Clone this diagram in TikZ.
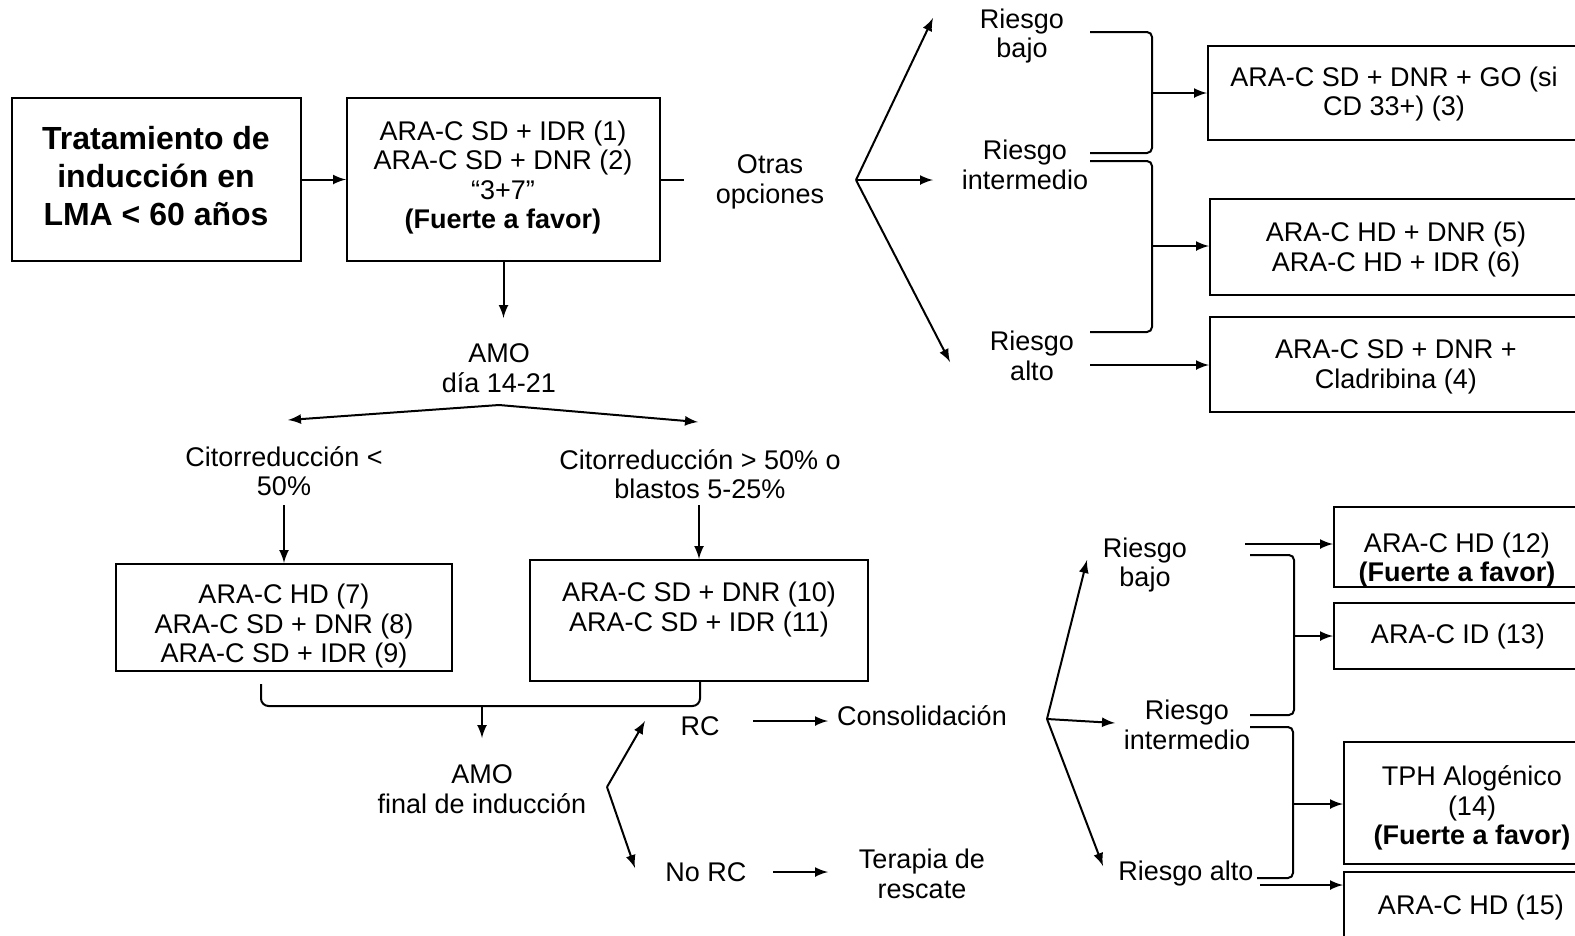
\documentclass[tikz,border=0pt]{standalone}
\usepackage{fontspec}
\setmainfont{Liberation Sans}
\usepackage{tikz}

\begin{document}
\begin{tikzpicture}[x=0.4pt,y=-0.4pt,line width=0.8pt,>=latex,
    caja/.style={draw,inner sep=0pt},
    txt/.style={align=center,font=\fontsize{10.8}{11.8}\selectfont},
    titulo/.style={align=center,font=\fontsize{12.8}{15.2}\selectfont\bfseries}]
            \useasboundingbox (0,0) rectangle (1575,935);
            \clip (0,0) rectangle (1575,935);
            \node[caja,minimum width=115.6pt,minimum height=65.2pt] (0) at (156.5,179.5) {};
            \node[caja,minimum width=125.2pt,minimum height=65.2pt] (1) at (503.5,179.5) {};
            \node[caja,minimum width=149.6pt,minimum height=37.6pt] (2) at (1395,93) {};
            \node[caja,minimum width=148.8pt,minimum height=38.4pt] (3) at (1396,247) {};
            \node[caja,minimum width=148.8pt,minimum height=38pt] (4) at (1396,364.5) {};
            \node[caja,minimum width=134.4pt,minimum height=42.8pt] (5) at (284,617.5) {};
            \node[caja,minimum width=135.2pt,minimum height=48.4pt] (6) at (699,620.5) {};
            \node[caja,minimum width=99.2pt,minimum height=32pt] (7) at (1458,547) {};
            \node[caja,minimum width=99.2pt,minimum height=26.4pt] (8) at (1458,636) {};
            \node[caja,minimum width=95.2pt,minimum height=48.8pt] (9) at (1463,803) {};
            \node[caja,minimum width=95.2pt,minimum height=43.2pt] (10) at (1463,926) {};
            \node[titulo] (11) at (156,176) {Tratamiento de\\inducción en\\LMA < 60 años};
            \node[txt] (12) at (503,177.5) {ARA-C SD + IDR (1)\\ARA-C SD + DNR (2)\\“3+7”\\\textbf{(Fuerte a favor)}};
            \node[txt] (13) at (1394,94) {ARA-C SD + DNR + GO (si\\CD 33+) (3)};
            \node[txt] (14) at (1396,249.5) {ARA-C HD + DNR (5)\\ARA-C HD + IDR (6)};
            \node[txt] (15) at (1396,367) {ARA-C SD + DNR +\\Cladribina (4)};
            \node[txt] (16) at (284,626) {ARA-C HD (7)\\ARA-C SD + DNR (8)\\ARA-C SD + IDR (9)};
            \node[txt] (17) at (699,609.5) {ARA-C SD + DNR (10)\\ARA-C SD + IDR (11)};
            \node[txt] (18) at (1457,560) {ARA-C HD (12)\\\textbf{(Fuerte a favor)}};
            \node[txt] (19) at (1458,637) {ARA-C ID (13)};
            \node[txt] (20) at (1472,808) {TPH Alogénico\\(14)\\\textbf{(Fuerte a favor)}};
            \node[txt] (21) at (1471,907) {ARA-C HD (15)};
            \node[txt] (22) at (770,182) {Otras\\opciones};
            \node[txt] (23) at (1022,36) {Riesgo\\bajo};
            \node[txt] (24) at (1025,165) {Riesgo\\intermedio};
            \node[txt] (25) at (1032,356) {Riesgo\\alto};
            \node[txt] (26) at (499,368) {AMO\\día 14-21};
            \node[txt] (27) at (284,471) {Citorreducción <\\50\%};
            \node[txt] (28) at (700,474) {Citorreducción > 50\% o\\blastos 5-25\%};
            \node[txt] (29) at (482,789) {AMO\\final de inducción};
            \node[txt] (30) at (700,726) {RC};
            \node[txt] (31) at (706,872) {No RC};
            \node[txt] (32) at (922,716) {Consolidación};
            \node[txt] (33) at (922,874) {Terapia de\\rescate};
            \node[txt] (34) at (1145,565) {Riesgo\\bajo};
            \node[txt] (35) at (1187,725) {Riesgo\\intermedio};
            \node[txt] (36) at (1186,874) {Riesgo alto};
            \node (41) at (684,179.5) {};
            \node (42) at (856,180) {};
            \node (43) at (933,18) {};
            \node (44) at (933,180) {};
            \node (45) at (950,362) {};
            \node (46) at (1090,32) {};
            \node (47) at (1152,32) {};
            \node (48) at (1152,153) {};
            \node (49) at (1090,153) {};
            \node (50) at (1152,93) {};
            \node (52) at (1090,161) {};
            \node (53) at (1152,161) {};
            \node (54) at (1152,332) {};
            \node (55) at (1090,332) {};
            \node (56) at (1152,246) {};
            \node (57) at (1090,365) {};
            \node (58) at (503.5,318) {};
            \node (59) at (499,405) {};
            \node (60) at (288,420) {};
            \node (61) at (698,422) {};
            \node (62) at (284,505) {};
            \node (63) at (699,505) {};
            \node (64) at (261,684) {};
            \node (65) at (261,706) {};
            \node (66) at (700,706) {};
            \node (67) at (700,682) {};
            \node (68) at (482,706) {};
            \node (69) at (482,738) {};
            \node (70) at (607,787) {};
            \node (71) at (645,721) {};
            \node (72) at (635,868) {};
            \node (73) at (753,721) {};
            \node (74) at (828,721) {};
            \node (75) at (773,872) {};
            \node (76) at (828,872) {};
            \node (77) at (1047,719) {};
            \node (78) at (1087,560) {};
            \node (79) at (1115,723) {};
            \node (80) at (1103,866) {};
            \node (81) at (1245,544) {};
            \node (82) at (1250,555) {};
            \node (83) at (1294,555) {};
            \node (84) at (1294,715) {};
            \node (85) at (1250,715) {};
            \node (86) at (1294,636) {};
            \node (87) at (1250,727) {};
            \node (88) at (1293,727) {};
            \node (89) at (1293,878) {};
            \node (90) at (1257,878) {};
            \node (91) at (1293,804) {};
            \node (92) at (1260,885) {};
            \draw[->] (0) to (1);
            \draw (1) to (41.center);
            \draw[->] (42.center) to (43.center);
            \draw[->] (42.center) to (44.center);
            \draw[->] (42.center) to (45.center);
            \draw[rounded corners=2pt] (46.center) -- (47.center) -- (48.center) -- (49.center);
            \draw[->] (50.center) to (50.center -| 2.west);
            \draw[rounded corners=2pt] (52.center) -- (53.center) -- (54.center) -- (55.center);
            \draw[->] (56.center) to (56.center -| 3.west);
            \draw[->] (57.center) to (57.center -| 4.west);
            \draw[->] (1) to (58.center);
            \draw[->] (59.center) to (60.center);
            \draw[->] (59.center) to (61.center);
            \draw[->] (62.center) to (5);
            \draw[->] (63.center) to (6);
            \draw[rounded corners=3pt] (64.center) -- (65.center) -- (66.center) -- (67.center);
            \draw[->] (68.center) to (69.center);
            \draw[->] (70.center) to (71.center);
            \draw[->] (70.center) to (72.center);
            \draw[->] (73.center) to (74.center);
            \draw[->] (75.center) to (76.center);
            \draw[->] (77.center) to (78.center);
            \draw[->] (77.center) to (79.center);
            \draw[->] (77.center) to (80.center);
            \draw[->] (81.center) to (81.center -| 7.west);
            \draw[rounded corners=2pt] (82.center) -- (83.center) -- (84.center) -- (85.center);
            \draw[->] (86.center) to (86.center -| 8.west);
            \draw[rounded corners=2pt] (87.center) -- (88.center) -- (89.center) -- (90.center);
            \draw[->] (91.center) to (91.center -| 9.west);
            \draw[->] (92.center) to (92.center -| 10.west);
        \end{tikzpicture}
\end{document}
